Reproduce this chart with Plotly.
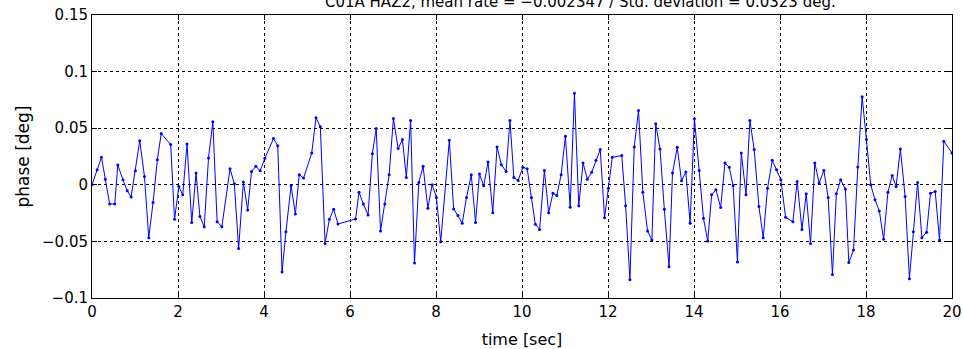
import plotly.graph_objects as go

time_sec = [0.0, 0.12, 0.22, 0.31, 0.41, 0.53, 0.6, 0.72, 0.82, 0.91, 1.01, 1.11, 1.22, 1.32, 1.42, 1.52, 1.61,
            1.83, 1.92, 2.02, 2.11, 2.21, 2.32, 2.42, 2.51, 2.61, 2.71, 2.81, 2.91, 3.02,
            3.21, 3.31, 3.41, 3.52, 3.62, 3.71, 3.81, 3.91, 4.02,
            4.22, 4.32, 4.42, 4.51, 4.63, 4.73, 4.82, 4.92,
            5.11, 5.21, 5.31, 5.42, 5.52, 5.62, 5.72,
            6.13, 6.21, 6.31, 6.42, 6.52, 6.61, 6.71, 6.81, 6.91, 7.01, 7.12, 7.22, 7.31, 7.41, 7.5,
            7.6, 7.7, 7.81, 7.91, 8.01, 8.11,
            8.31, 8.41, 8.51, 8.61, 8.71, 8.82, 8.92, 9.01, 9.11, 9.21, 9.32, 9.42, 9.52, 9.63, 9.72,
            9.81, 9.91, 10.02, 10.12, 10.22, 10.31, 10.41, 10.52, 10.62, 10.72, 10.81, 10.91, 11.01,
            11.12, 11.22, 11.32, 11.42, 11.52, 11.62, 11.72, 11.82, 11.92, 12.01, 12.1,
            12.32, 12.41, 12.51, 12.61, 12.71, 12.81, 12.92, 13.02, 13.11, 13.21, 13.31, 13.42, 13.5,
            13.61, 13.71, 13.81, 13.91, 14.01, 14.12, 14.22, 14.32, 14.41, 14.51, 14.62, 14.72, 14.82,
            14.91, 15.01, 15.1, 15.21, 15.3, 15.4, 15.51, 15.61, 15.71, 15.82, 15.92, 16.02, 16.13,
            16.3, 16.4, 16.51, 16.61, 16.71, 16.81, 16.91, 17.02, 17.12, 17.22, 17.31, 17.41, 17.52,
            17.6, 17.71, 17.81, 17.91, 18.01, 18.11, 18.21, 18.31, 18.41, 18.51, 18.61, 18.7, 18.8,
            18.91, 19.01, 19.1, 19.2, 19.3, 19.41, 19.5, 19.61, 19.71, 19.81, 20.0]

phase_deg = [0.0, 0.0133, 0.0243, 0.005, -0.0169, -0.0169, 0.0175, 0.0044, -0.0053, -0.0107, 0.0124, 0.039,
             0.0074, -0.0468, -0.0157, 0.0222, 0.0453,
             0.0355, -0.0305, -0.0015, -0.0089, 0.0361, -0.0334, 0.0104, -0.0281, -0.037, 0.0237, 0.0556,
             -0.0326, -0.037,
             0.0142, 0.0009, -0.0562, 0.0024, -0.0222, 0.0118, 0.0163, 0.0124, 0.0234,
             0.0408, 0.0346, -0.077, -0.0414, -0.0009, -0.0258, 0.0089, 0.0059,
             0.0281, 0.0592, 0.0512, -0.0518, -0.0305, -0.0216, -0.0346,
             -0.0302, -0.0065, -0.0169, -0.0266, 0.0275, 0.0497, -0.0408, -0.0169, 0.0089, 0.0586,
             0.032, 0.04, 0.0065, 0.0568, -0.069,
             0.0021, 0.0163, -0.0207, 0.0, -0.0112, -0.0503,
             0.0394, -0.0213, -0.0272, -0.034, -0.0112, 0.0089, -0.0334, 0.0095, -0.0009, 0.0201,
             -0.0246, 0.0334, 0.0178, 0.0118, 0.0568,
             0.0065, 0.0038, 0.0154, 0.0142, -0.0112, -0.0349, -0.0394, 0.0127, -0.0246, -0.0074,
             -0.0095, 0.0089, 0.0429,
             -0.0198, 0.0808, -0.0186, 0.0192, 0.005, 0.011, 0.0216, 0.0311, -0.029, -0.003, 0.0243,
             0.0258, -0.0184, -0.0838, 0.0334, 0.0657, -0.0065, -0.0408, -0.0488, 0.0539, 0.0317,
             -0.0216, -0.0725, 0.0104,
             0.0332, 0.0036, 0.0112, -0.034, 0.0583, 0.0127, -0.0296, -0.0497, -0.0089, -0.0044,
             -0.0201, 0.0192, 0.0154,
             -0.0009, -0.0681, 0.0281, -0.0089, 0.0568, 0.0311, -0.0192, -0.0468, -0.003, 0.0216,
             0.0133, 0.0044, -0.0287,
             -0.0326, 0.003, -0.0394, -0.008, -0.0518, 0.0192, 0.0015, 0.0127, -0.0112, -0.0793,
             -0.008, 0.0044, -0.0038,
             -0.0687, -0.0577, 0.0157, 0.0778, 0.04, 0.0, -0.0133, -0.0231, -0.0482, -0.0065, 0.0083,
             -0.0015, 0.0317,
             -0.0104, -0.0829, -0.0414, 0.0021, -0.0468, -0.042, -0.0074, -0.0059, -0.0488, 0.0385,
             0.0281]

x_ticks = [0, 2, 4, 6, 8, 10, 12, 14, 16, 18, 20]
y_ticks = [-0.1, -0.05, 0, 0.05, 0.1, 0.15]
y_tick_labels = ["\u22120.1", "\u22120.05", "0", "0.05", "0.1", "0.15"]

title_text = "C01A HAZ2, mean rate = \u22120.002347 / Std. deviation = 0.0323 deg."

FONT = "DejaVu Sans, Arial, sans-serif"

fig = go.Figure()
fig.add_trace(go.Scatter(
    x=time_sec, y=phase_deg, mode="lines+markers",
    line=dict(color="#0000ff", width=1),
    marker=dict(color="#0000ff", size=3),
    showlegend=False,
))

axis_common = dict(
    showline=True, linecolor="black", linewidth=1, mirror="ticks",
    ticks="inside", ticklen=5, tickcolor="black",
    showgrid=True, gridcolor="black", griddash="dot", gridwidth=1,
    zeroline=False, automargin=False,
    tickfont=dict(family=FONT, size=15, color="black"),
)

fig.update_xaxes(range=[0, 20], tickvals=x_ticks, ticktext=[str(v) for v in x_ticks],
                 title=dict(text="time [sec]", standoff=14,
                            font=dict(family=FONT, size=16, color="black")),
                 **axis_common)
fig.update_yaxes(range=[-0.1, 0.15], tickvals=y_ticks, ticktext=y_tick_labels,
                 title=dict(text="phase [deg]", standoff=8,
                            font=dict(family=FONT, size=17, color="black")),
                 **axis_common)

fig.update_layout(
    width=963, height=349,
    margin=dict(l=92, r=11, t=15, b=51),
    paper_bgcolor="white", plot_bgcolor="white",
)

fig.add_annotation(text=title_text, xref="paper", yref="paper", x=0.568, y=1.0,
                   xanchor="center", yanchor="bottom", yshift=2, showarrow=False,
                   font=dict(family=FONT, size=15, color="black"))

fig.write_html("out.html", config={"displayModeBar": False},
               post_script="document.body.style.margin='0px';")
